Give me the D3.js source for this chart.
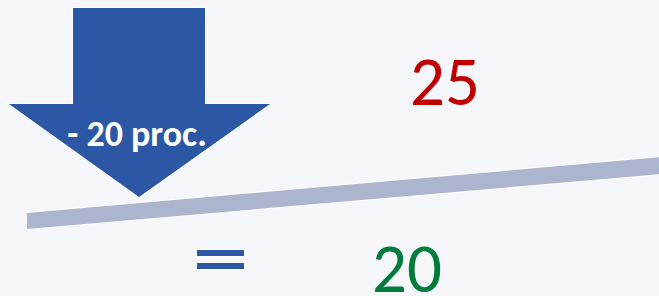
<!DOCTYPE html>
<html>
<head>
<meta charset="utf-8">
<script src="https://d3js.org/d3.v7.min.js"></script>
<style>
  html, body { margin: 0; padding: 0; background: #f5f7fa; }
  svg { display: block; }
</style>
</head>
<body>
<div id="chart"></div>
<script>
// values shown on the slide
const before = [25];
const after = [20];
const changeLabel = ["- 20 proc."];
const equalsSign = ["="];

const width = 659, height = 296;
const blue = "#2b57a4", red = "#c00000", green = "#007d3a", rule = "#adb4ce";
const font = "Carlito, 'Open Sans', sans-serif";

const svg = d3.select("#chart").append("svg")
    .attr("width", width)
    .attr("height", height);

svg.append("rect")
    .attr("width", width).attr("height", height)
    .attr("fill", "#f5f7fa");

// slanted divider
const line = d3.line();
svg.append("path")
    .attr("d", line([[27, 213], [27, 229], [662, 174], [662, 157]]) + "Z")
    .attr("fill", rule)
    .attr("stroke", "#fff")
    .attr("stroke-width", 2)
    .attr("paint-order", "stroke");

// down arrow
const arrowPts = [[73, 8], [205, 8], [205, 104], [270, 104], [139, 197], [9, 104], [73, 104]];
svg.append("path")
    .attr("d", line(arrowPts) + "Z")
    .attr("fill", blue)
    .attr("stroke", "#fff")
    .attr("stroke-width", 2)
    .attr("stroke-linejoin", "miter")
    .attr("paint-order", "stroke");

svg.selectAll(".chg")
    .data(changeLabel)
    .enter().append("text")
    .attr("class", "chg")
    .attr("x", 137).attr("y", 146)
    .attr("text-anchor", "middle")
    .attr("font-family", font)
    .attr("font-weight", "bold")
    .attr("font-size", 36)
    .attr("fill", "#fff")
    .text(d => d);

// old value
svg.selectAll(".before")
    .data(before)
    .enter().append("text")
    .attr("class", "before")
    .attr("x", 445).attr("y", 105)
    .attr("text-anchor", "middle")
    .attr("font-family", font)
    .attr("font-size", 69)
    .attr("fill", red)
    .text(d => d);

// equals sign as two bars
const eq = svg.append("g").datum(equalsSign[0]);
eq.selectAll("rect")
    .data([250, 263])
    .enter().append("rect")
    .attr("x", 197).attr("y", d => d)
    .attr("width", 47).attr("height", 6)
    .attr("fill", blue)
    .attr("stroke", "#fff")
    .attr("stroke-width", 2)
    .attr("paint-order", "stroke");

// new value
svg.selectAll(".after")
    .data(after)
    .enter().append("text")
    .attr("class", "after")
    .attr("x", 407).attr("y", 292)
    .attr("text-anchor", "middle")
    .attr("font-family", font)
    .attr("font-size", 69)
    .attr("fill", green)
    .text(d => d);
</script>
</body>
</html>
